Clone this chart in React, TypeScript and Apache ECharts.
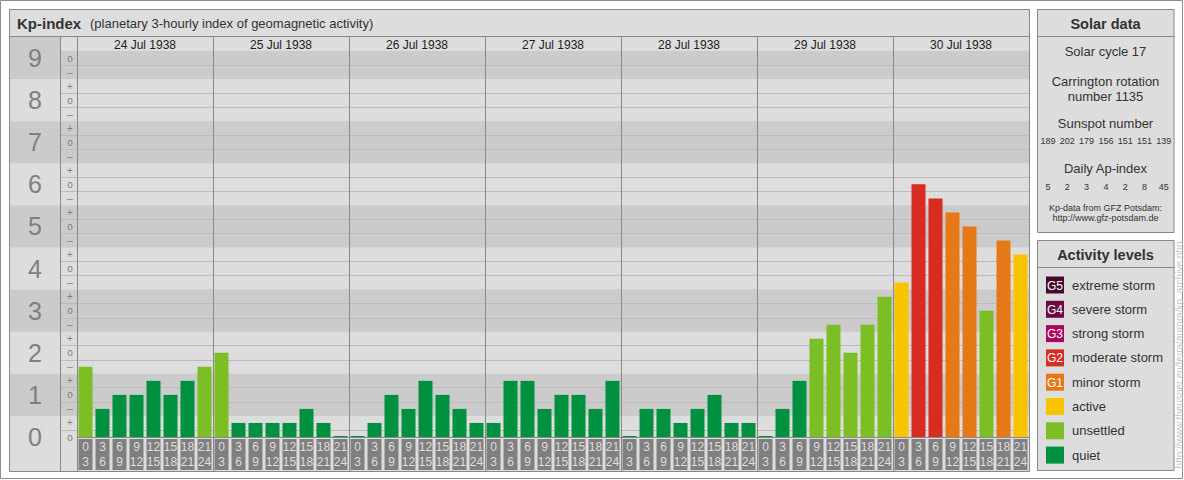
import React, { useEffect, useRef } from 'react';
import * as echarts from 'echarts';

// ---------- data ----------
const days = ['24 Jul 1938', '25 Jul 1938', '26 Jul 1938', '27 Jul 1938', '28 Jul 1938', '29 Jul 1938', '30 Jul 1938'];
const hourStarts = [0, 3, 6, 9, 12, 15, 18, 21];
const kp24 = ['2-', '1-', '1o', '1o', '1+', '1o', '1+', '2-'];
const kp25 = ['2o', '0+', '0+', '0+', '0+', '1-', '0+', '0o'];
const kp26 = ['0o', '0+', '1o', '1-', '1+', '1o', '1-', '0+'];
const kp27 = ['0+', '1+', '1+', '1-', '1o', '1o', '1-', '1+'];
const kp28 = ['0o', '1-', '1-', '0+', '1-', '1o', '0+', '0+'];
const kp29 = ['0o', '1-', '1+', '2+', '3-', '2o', '3-', '3+'];
const kp30 = ['4-', '6o', '6-', '5+', '5o', '3o', '5-', '4+'];
const kpByDay = [kp24, kp25, kp26, kp27, kp28, kp29, kp30];
const kpLevels = [0, 1, 2, 3, 4, 5, 6, 7, 8, 9];
const solarCycle = 17;
const carringtonRotation = 1135;
const sunspotNumbers = [189, 202, 179, 156, 151, 151, 139];
const dailyAp = [5, 2, 3, 4, 2, 8, 45];
const levelCodes = ['G5', 'G4', 'G3', 'G2', 'G1', '', '', ''];
const levelLabels = ['extreme storm', 'severe storm', 'strong storm', 'moderate storm', 'minor storm', 'active', 'unsettled', 'quiet'];
const levelMinThirds = [26, 23, 20, 17, 14, 11, 5, -1000];

// ---------- styles ----------
const levelColors = ['#470a2f', '#6c0a40', '#a8085c', '#d62d20', '#e67817', '#f8c400', '#7bbf24', '#009140'];
const FONT = '"Liberation Sans", Arial, Helvetica, sans-serif';
const LIGHT = '#dddddd';
const DARK = '#cbcbcb';
const GRIDLINE = '#bcbcbc';
const BORDER = '#888888';
const TEXT = '#333333';

const PLOT_MAX = 9 + 1 / 6;
const BIG_MAX = 9.5;

function kpToValue(s: string): number {
  const base = parseInt(s[0], 10);
  const mod = s[1] === '+' ? 1 / 3 : s[1] === '-' ? -1 / 3 : 0;
  return base + mod;
}

function levelIndex(value: number): number {
  const thirds = Math.round(value * 3);
  for (let i = 0; i < levelMinThirds.length; i++) {
    if (thirds >= levelMinThirds[i]) return i;
  }
  return levelMinThirds.length - 1;
}

const hourLabels = kpByDay.flatMap(() => hourStarts.map((h) => `${h}\n${h + 3}`));
const barValues = kpByDay.flatMap((d) => d.map(kpToValue));

const bands = (max: number) =>
  kpLevels
    .filter((k) => k % 2 === 1)
    .map((k) => [{ yAxis: k - 0.5 }, { yAxis: Math.min(k + 0.5, max) }]);

const gridLineValues = kpLevels
  .flatMap((k) => [k - 1 / 6, k + 1 / 6])
  .filter((v) => v > 0);

function txt(x: number, y: number, text: string, size: number, opts: any = {}) {
  return {
    type: 'text',
    z: 10,
    x,
    y,
    rotation: opts.rotation || 0,
    style: {
      x: 0,
      y: 0,
      text,
      fill: opts.color || TEXT,
      font: `${opts.bold ? 'bold ' : ''}${size}px ${FONT}`,
      fontSize: size,
      fontWeight: opts.bold ? 'bold' : 'normal',
      fontFamily: FONT,
      align: opts.align || 'center',
      textAlign: opts.align || 'center',
      verticalAlign: 'middle',
      textVerticalAlign: 'middle',
    },
  };
}

function hline(x1: number, x2: number, y: number, color = BORDER) {
  return { type: 'line', z: 6, shape: { x1, y1: y, x2, y2: y }, style: { stroke: color, lineWidth: 1 } };
}
function vline(x: number, y1: number, y2: number, color = BORDER) {
  return { type: 'line', z: 6, shape: { x1: x, y1, x2: x, y2 }, style: { stroke: color, lineWidth: 1 } };
}

function buildGraphics() {
  const g: any[] = [];
  // outer frame
  g.push({ type: 'rect', z: -10, shape: { x: 0.5, y: 0.5, width: 1182, height: 478 }, style: { fill: '#ffffff', stroke: '#8c8c8c', lineWidth: 1 } });
  // main panel
  g.push({ type: 'rect', z: -9, shape: { x: 9.5, y: 9.5, width: 1020, height: 462 }, style: { fill: LIGHT, stroke: BORDER, lineWidth: 1 } });
  g.push(hline(9.5, 1029.5, 36.5));
  g.push(vline(60.5, 37, 471.5));
  // title
  g.push(txt(17, 23, 'Kp-index', 15, { bold: true, align: 'left' }));
  g.push(txt(90, 23.5, '(planetary 3-hourly index of geomagnetic activity)', 13, { align: 'left' }));

  // solar data box
  const cx = 1105.5;
  g.push({ type: 'rect', z: -9, shape: { x: 1037.5, y: 9.5, width: 136.5, height: 223 }, style: { fill: LIGHT, stroke: BORDER, lineWidth: 1 } });
  g.push(hline(1037.5, 1174, 36.5));
  g.push(txt(cx, 23.5, 'Solar data', 14.5, { bold: true }));
  g.push(txt(cx, 51, `Solar cycle ${solarCycle}`, 13));
  g.push(txt(cx, 81, 'Carrington rotation', 13));
  g.push(txt(cx, 96.5, `number ${carringtonRotation}`, 13));
  g.push(txt(cx, 123.5, 'Sunspot number', 13));
  sunspotNumbers.forEach((n, i) => g.push(txt(1048 + i * 19.3, 141, String(n), 9)));
  g.push(txt(cx, 168.5, 'Daily Ap-index', 13));
  dailyAp.forEach((n, i) => g.push(txt(1048 + i * 19.3, 187, String(n), 9)));
  g.push(txt(cx, 207.5, 'Kp-data from GFZ Potsdam:', 9));
  g.push(txt(cx, 218, 'http://www.gfz-potsdam.de', 9));

  // activity levels box
  g.push({ type: 'rect', z: -9, shape: { x: 1037.5, y: 240.5, width: 136.5, height: 230 }, style: { fill: LIGHT, stroke: BORDER, lineWidth: 1 } });
  g.push(hline(1037.5, 1174, 267.5));
  g.push(txt(cx, 255, 'Activity levels', 14.5, { bold: true }));
  levelLabels.forEach((label, i) => {
    const top = 276.5 + i * 24.3;
    g.push({ type: 'rect', z: 8, shape: { x: 1046, y: top, width: 18, height: 17 }, style: { fill: levelColors[i] } });
    if (levelCodes[i]) g.push(txt(1055, top + 9, levelCodes[i], 12, { color: '#ffffff' }));
    g.push(txt(1072, top + 8.5, label, 13, { align: 'left' }));
  });

  // watermark
  g.push(txt(1179, 355, 'http://www.theusner.eu/terra/aurora/kp_archive.php', 10, { color: '#c4c4c4', rotation: Math.PI / 2 }));
  return g;
}

export default function App() {
  const ref = useRef<HTMLDivElement>(null);

  useEffect(() => {
    document.body.style.margin = '0';
    if (!ref.current) return;
    const chart = echarts.init(ref.current, null, { renderer: 'svg' });

    const markLineCommon = {
      silent: true,
      z: 1,
      symbol: ['none', 'none'],
      label: { show: false },
      lineStyle: { color: GRIDLINE, width: 1, type: 'solid' },
      emphasis: { disabled: true },
      animation: false,
    };
    const markAreaCommon = {
      silent: true,
      z: 1,
      itemStyle: { color: DARK, opacity: 1, borderWidth: 0 },
      label: { show: false },
      emphasis: { disabled: true },
      animation: false,
    };

    chart.setOption({
      animation: false,
      backgroundColor: '#ffffff',
      textStyle: { fontFamily: FONT },
      grid: [
        { left: 77, top: 51, width: 952, height: 386 },
        { left: 61, top: 51, width: 16, height: 386 },
        { left: 10, top: 37, width: 50, height: 400 },
        { left: 77, top: 37, width: 952, height: 434 },
      ],
      xAxis: [
        {
          gridIndex: 0,
          type: 'category',
          data: hourLabels,
          position: 'bottom',
          z: 3,
          axisLine: { show: true, lineStyle: { color: BORDER, width: 1 } },
          axisTick: { show: false },
          splitLine: { show: false },
          axisLabel: {
            interval: 0,
            color: '#dddddd',
            fontSize: 12,
            fontFamily: FONT,
            lineHeight: 14.5,
            backgroundColor: '#808080',
            width: 14,
            padding: [1, 0, 1, 0],
            align: 'center',
            verticalAlign: 'top',
            margin: 2,
            overflow: 'none',
          },
        },
        { gridIndex: 1, type: 'value', min: 0, max: 1, show: false },
        { gridIndex: 2, type: 'value', min: 0, max: 1, show: false },
        {
          gridIndex: 3,
          type: 'category',
          data: days,
          position: 'top',
          z: 2,
          axisLine: { show: false },
          axisTick: { show: false },
          splitLine: { show: true, interval: 0, lineStyle: { color: BORDER, width: 1 } },
          axisLabel: {
            inside: true,
            interval: 0,
            margin: 8,
            verticalAlign: 'middle',
            color: '#222222',
            fontSize: 12,
            fontFamily: FONT,
          },
        },
      ],
      yAxis: [
        { gridIndex: 0, type: 'value', min: 0, max: PLOT_MAX, show: false },
        {
          gridIndex: 1,
          type: 'value',
          min: 0,
          max: PLOT_MAX,
          interval: 1 / 3,
          z: 3,
          axisLine: { show: false },
          axisTick: { show: false },
          splitLine: { show: false },
          axisLabel: {
            inside: true,
            margin: 9,
            align: 'center',
            color: '#808080',
            fontSize: 10,
            fontFamily: FONT,
            showMaxLabel: false,
            formatter: (v: number) => {
              const n = v * 3;
              if (Math.abs(n - Math.round(n)) > 0.01 || n > 27.01) return '';
              const r = ((Math.round(n) % 3) + 3) % 3;
              return r === 0 ? 'o' : r === 1 ? '+' : '–';
            },
          },
        },
        {
          gridIndex: 2,
          type: 'value',
          min: 0,
          max: BIG_MAX,
          interval: 1,
          z: 3,
          axisLine: { show: false },
          axisTick: { show: false },
          splitLine: { show: false },
          axisLabel: {
            inside: true,
            margin: 25,
            align: 'center',
            color: '#808080',
            fontSize: 25,
            fontFamily: FONT,
            formatter: (v: number) => (Math.abs(v - Math.round(v)) < 0.01 && v <= 9 ? String(Math.round(v)) : ''),
          },
        },
        { gridIndex: 3, type: 'value', min: 0, max: 1, show: false },
      ],
      series: [
        {
          type: 'bar',
          xAxisIndex: 0,
          yAxisIndex: 0,
          data: barValues,
          barWidth: 14,
          barMinHeight: 1,
          z: 4,
          silent: true,
          itemStyle: { color: (p: any) => levelColors[levelIndex(p.value)] },
        },
        {
          type: 'line',
          xAxisIndex: 0,
          yAxisIndex: 0,
          data: [],
          z: 1,
          silent: true,
          markArea: { ...markAreaCommon, data: bands(PLOT_MAX) },
          markLine: { ...markLineCommon, data: [...gridLineValues.map((v) => ({ yAxis: v }))] },
        },
        {
          type: 'line',
          xAxisIndex: 1,
          yAxisIndex: 1,
          data: [],
          z: 1,
          silent: true,
          markArea: { ...markAreaCommon, data: bands(PLOT_MAX) },
          markLine: { ...markLineCommon, data: gridLineValues.map((v) => ({ yAxis: v })) },
        },
        {
          type: 'line',
          xAxisIndex: 2,
          yAxisIndex: 2,
          data: [],
          z: 1,
          silent: true,
          markArea: { ...markAreaCommon, data: bands(BIG_MAX) },
        },
      ],
      graphic: { elements: buildGraphics() },
    });

    return () => chart.dispose();
  }, []);

  return <div ref={ref} style={{ width: 1184, height: 480 }} />;
}
